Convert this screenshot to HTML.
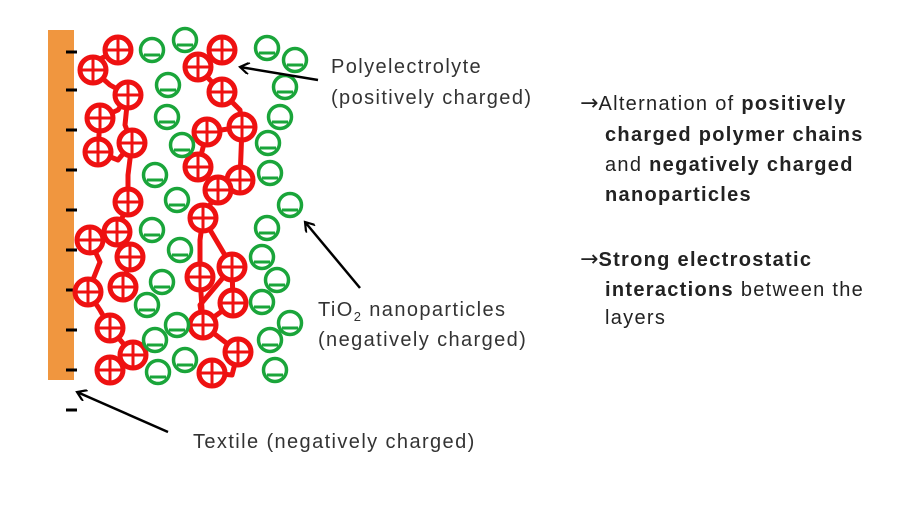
<!DOCTYPE html>
<html><head><style>body{margin:0;background:#fff}svg{display:block}</style></head><body>
<svg width="912" height="505" viewBox="0 0 912 505" xmlns="http://www.w3.org/2000/svg">
<defs>
<g id="p"><circle r="13" fill="#fff" stroke="#ee1111" stroke-width="5"/><path d="M-12 0H12M0 -12V12" stroke="#ee1111" stroke-width="3"/></g>
<g id="m"><circle r="11.5" fill="#fff" stroke="#1aa53a" stroke-width="3.5"/><path d="M-8 5H8" stroke="#1aa53a" stroke-width="3"/></g>
<marker id="ah" markerWidth="12" markerHeight="12" refX="10" refY="6" orient="auto" markerUnits="userSpaceOnUse"><path d="M1 0L10 6L1 12" fill="none" stroke="#000" stroke-width="2.2"/></marker>
</defs>
<rect x="48" y="30" width="26" height="350" fill="#f0963f"/>
<g stroke="#000" stroke-width="3">
<path d="M66 52H77M66 90H77M66 130H77M66 170H77M66 210H77M66 250H77M66 290H77M66 330H77M66 370H77M66 410H77"/>
</g>
<g fill="none" stroke="#ee1111" stroke-width="5" stroke-linejoin="round">
<polyline points="118,50 98,60 93,70 110,85 128,95 118,110 100,118 98,152 118,160 132,143 125,125 128,95"/>
<polyline points="132,143 128,175 128,202 117,232 90,240 100,262 88,292 100,310 110,328 133,355 110,370"/>
<polyline points="117,232 130,257 123,287"/>
<polyline points="222,50 198,67 210,80 222,92 240,110 242,127 207,132 198,167 218,190 240,180 242,127"/>
<polyline points="218,190 203,218 200,240 200,277 203,325 238,352 232,375 212,373"/>
<polyline points="203,218 232,267 233,303 203,325 200,305 232,267"/>
</g>
<g>
<use href="#p" x="118" y="50"/><use href="#p" x="93" y="70"/><use href="#p" x="128" y="95"/><use href="#p" x="100" y="118"/><use href="#p" x="132" y="143"/><use href="#p" x="98" y="152"/><use href="#p" x="128" y="202"/>
<use href="#p" x="222" y="50"/><use href="#p" x="198" y="67"/><use href="#p" x="222" y="92"/><use href="#p" x="207" y="132"/><use href="#p" x="242" y="127"/><use href="#p" x="198" y="167"/><use href="#p" x="240" y="180"/><use href="#p" x="218" y="190"/>
<use href="#p" x="117" y="232"/><use href="#p" x="90" y="240"/><use href="#p" x="130" y="257"/><use href="#p" x="123" y="287"/><use href="#p" x="88" y="292"/><use href="#p" x="110" y="328"/><use href="#p" x="133" y="355"/><use href="#p" x="110" y="370"/>
<use href="#p" x="203" y="218"/><use href="#p" x="200" y="277"/><use href="#p" x="232" y="267"/><use href="#p" x="233" y="303"/><use href="#p" x="203" y="325"/><use href="#p" x="238" y="352"/><use href="#p" x="212" y="373"/>
</g>
<g>
<use href="#m" x="152" y="50"/><use href="#m" x="185" y="40"/><use href="#m" x="267" y="48"/><use href="#m" x="295" y="60"/><use href="#m" x="168" y="85"/><use href="#m" x="285" y="87"/><use href="#m" x="167" y="117"/><use href="#m" x="280" y="117"/><use href="#m" x="182" y="145"/><use href="#m" x="268" y="143"/><use href="#m" x="155" y="175"/><use href="#m" x="270" y="173"/><use href="#m" x="177" y="200"/><use href="#m" x="290" y="205"/>
<use href="#m" x="152" y="230"/><use href="#m" x="180" y="250"/><use href="#m" x="267" y="228"/><use href="#m" x="262" y="257"/><use href="#m" x="162" y="282"/><use href="#m" x="147" y="305"/><use href="#m" x="277" y="280"/><use href="#m" x="262" y="302"/><use href="#m" x="177" y="325"/><use href="#m" x="155" y="340"/><use href="#m" x="290" y="323"/><use href="#m" x="270" y="340"/><use href="#m" x="158" y="372"/><use href="#m" x="185" y="360"/><use href="#m" x="275" y="370"/>
</g>
<g stroke="#000" stroke-width="2.5" fill="none">
<line x1="318" y1="80" x2="240" y2="67" marker-end="url(#ah)"/>
<line x1="360" y1="288" x2="305" y2="222" marker-end="url(#ah)"/>
<line x1="168" y1="432" x2="77" y2="392" marker-end="url(#ah)"/>
</g>
<g font-family="Liberation Sans, sans-serif" font-size="20" fill="#333" letter-spacing="1.4">
<text x="331" y="73">Polyelectrolyte</text>
<text x="331" y="104">(positively charged)</text>
<text x="318" y="316">TiO<tspan font-size="13" dy="5">2</tspan><tspan dy="-5"> nanoparticles</tspan></text>
<text x="318" y="346">(negatively charged)</text>
<text x="193" y="448">Textile (negatively charged)</text>
</g>
<g font-family="Liberation Sans, sans-serif" font-size="20" fill="#222" letter-spacing="1.3">
<text x="580" y="110"><tspan font-family="DejaVu Sans" font-size="22" letter-spacing="0">→</tspan>Alternation of <tspan font-weight="bold">positively</tspan></text>
<text x="605" y="141" font-weight="bold">charged polymer chains</text>
<text x="605" y="171">and <tspan font-weight="bold">negatively charged</tspan></text>
<text x="605" y="201" font-weight="bold">nanoparticles</text>
<text x="580" y="266"><tspan font-family="DejaVu Sans" font-size="22" letter-spacing="0">→</tspan><tspan font-weight="bold">Strong electrostatic</tspan></text>
<text x="605" y="296"><tspan font-weight="bold">interactions</tspan> between the</text>
<text x="605" y="324">layers</text>
</g>
</svg>
</body></html>
